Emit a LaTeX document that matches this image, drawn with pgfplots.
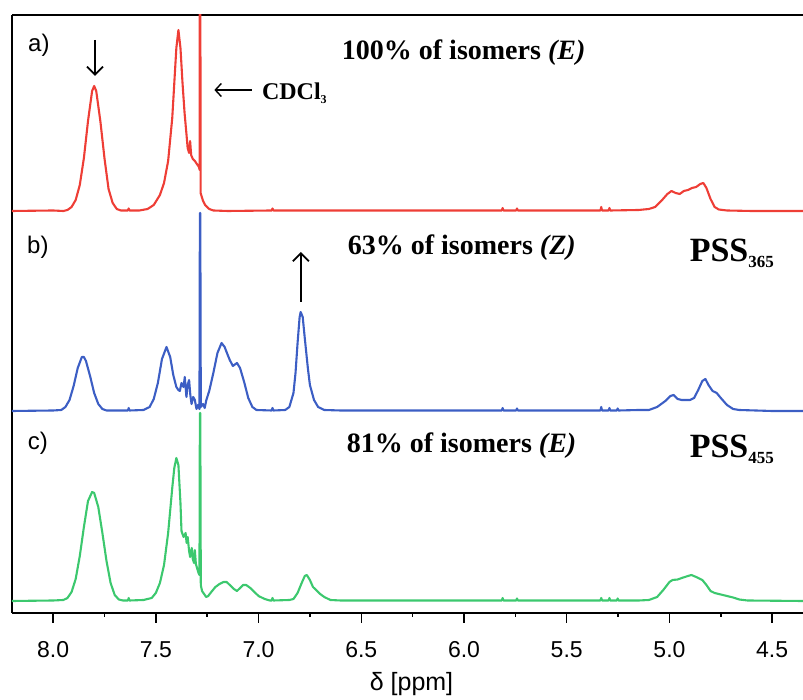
\documentclass[border=0pt]{standalone}
\usepackage{pgfplots}
\pgfplotsset{compat=1.18}
\usepackage{fontspec}
\setmainfont{Liberation Serif}
\newfontfamily\arial{Liberation Sans}
\usetikzlibrary{arrows.meta}
\definecolor{cred}{RGB}{238,62,54}
\definecolor{cblue}{RGB}{60,94,196}
\definecolor{cgreen}{RGB}{60,200,110}
\begin{document}
\begin{tikzpicture}
\useasboundingbox (-12pt,-87pt) rectangle (791pt,613pt);
\begin{axis}[name=ax, at={(0pt,0pt)}, anchor=south west, scale only axis, width=791pt, height=598pt,
  x dir=reverse, xmin=4.35, xmax=8.2, ymin=0, ymax=598,
  axis x line*=box, axis y line*=left,
  ytick=\empty, xtick={4.5,5,5.5,6,6.5,7,7.5,8}, minor x tick num=1,
  xtick pos=left, tick align=outside,
  major tick length=10pt, minor tick length=4pt,
  every tick/.append style={black, line width=1.4pt},
  axis line style={line width=1.6pt},
  /pgf/number format/assume math mode=true,
  xticklabel={\pgfmathprintnumber[fixed,fixed zerofill,precision=1]{\tick}},
  xticklabel style={font=\arial\fontsize{23}{23}\selectfont, anchor=center, yshift=-27pt},
  clip=true]
\addplot[cred, line width=2.1pt, line join=round] coordinates {
(8.20,402) (8.00,402.5) (7.95,402) (7.93,403) (7.91,406) (7.89,413) (7.87,428) (7.85,455) (7.83,492) (7.81,522) (7.80,527) (7.79,522) (7.77,492) (7.75,455) (7.73,424) (7.71,410) (7.69,404) (7.67,402.5) (7.636,402.5) (7.632,404.5) (7.628,402.5) (7.58,402.5) (7.54,404) (7.51,408) (7.48,418) (7.46,430) (7.44,452) (7.42,495) (7.41,530) (7.40,565) (7.39,583) (7.38,565) (7.37,530) (7.36,500) (7.35,477) (7.345,465) (7.338,460) (7.333,472) (7.328,458) (7.320,454) (7.310,452) (7.300,449) (7.290,446) (7.2865,443) (7.2855,700) (7.2835,700) (7.282,420) (7.27,412) (7.26,408) (7.24,404) (7.22,402.5) (7.15,402) (6.936,402.5) (6.932,404.5) (6.928,402.5) (6.60,402.5) (5.816,402.5) (5.812,405) (5.808,402.5) (5.746,402.5) (5.742,404.5) (5.738,402.5) (5.336,402.5) (5.332,406) (5.328,402.5) (5.296,402.5) (5.292,405) (5.288,402.5) (5.15,403) (5.10,404) (5.07,406) (5.04,412) (5.01,419) (4.99,422) (4.97,420) (4.95,419) (4.93,422) (4.91,423) (4.89,425) (4.87,426) (4.85,429) (4.835,430) (4.82,425) (4.80,414) (4.78,406) (4.76,403.5) (4.72,402.5) (4.60,402) (4.35,402)
};
\addplot[cblue, line width=2.1pt, line join=round] coordinates {
(8.20,202) (8.00,202.5) (7.96,203) (7.94,206) (7.92,213) (7.90,227) (7.88,245) (7.86,256) (7.85,256) (7.84,252) (7.82,237) (7.80,220) (7.78,209) (7.76,204) (7.74,202.5) (7.636,202.5) (7.632,205) (7.628,202.5) (7.56,203) (7.53,206) (7.51,214) (7.49,230) (7.47,254) (7.448,266) (7.43,256) (7.415,238) (7.40,226) (7.39,223) (7.383,222) (7.375,230) (7.365,226) (7.359,236) (7.351,216) (7.345,228) (7.338,233) (7.332,218) (7.326,209) (7.318,216) (7.310,213) (7.302,204) (7.295,208) (7.2875,204) (7.2855,400) (7.2835,400) (7.281,206) (7.27,209) (7.262,205) (7.254,213) (7.24,222) (7.22,240) (7.20,260) (7.18,270) (7.165,266) (7.15,258) (7.14,253) (7.125,247) (7.105,250) (7.09,245) (7.07,231) (7.05,215) (7.03,206) (7.01,203) (6.936,202.5) (6.932,205) (6.928,202.5) (6.87,203) (6.85,206) (6.83,220) (6.82,240) (6.81,270) (6.80,296) (6.795,301) (6.785,296) (6.775,275) (6.76,245) (6.75,228) (6.73,213) (6.71,206) (6.68,203) (6.60,202.5) (5.816,202.5) (5.812,205) (5.808,202.5) (5.746,202.5) (5.742,204.5) (5.738,202.5) (5.336,202.5) (5.332,206) (5.328,202.5) (5.296,202.5) (5.292,205) (5.288,202.5) (5.256,202.5) (5.252,204.5) (5.248,202.5) (5.15,203) (5.10,203) (5.06,206) (5.02,212) (4.995,217) (4.98,218) (4.96,214) (4.94,213) (4.90,213) (4.88,215) (4.86,223) (4.84,232) (4.825,234) (4.81,228) (4.79,222) (4.77,220) (4.75,215) (4.72,208) (4.69,204) (4.66,203) (4.50,202) (4.35,202)
};
\addplot[cgreen, line width=2.1pt, line join=round] coordinates {
(8.20,12) (8.00,12.5) (7.95,13) (7.93,15) (7.91,21) (7.89,34) (7.87,57) (7.85,86) (7.83,112) (7.81,121) (7.80,120) (7.78,106) (7.76,80) (7.74,52) (7.72,30) (7.70,18) (7.68,13.5) (7.66,12.5) (7.636,12.5) (7.632,15) (7.628,12.5) (7.56,13) (7.52,15) (7.50,20) (7.48,30) (7.46,48) (7.44,80) (7.42,125) (7.41,145) (7.40,155) (7.39,148) (7.38,110) (7.375,82) (7.365,76) (7.355,80) (7.350,70) (7.345,76) (7.338,62) (7.333,56) (7.325,65) (7.32,54) (7.314,50) (7.310,63) (7.305,49) (7.298,44) (7.292,40) (7.2875,38) (7.2855,200) (7.2835,200) (7.281,28) (7.275,22) (7.265,19) (7.255,16) (7.245,17) (7.23,21) (7.21,26) (7.19,29) (7.17,31) (7.155,31) (7.14,28) (7.12,24) (7.105,22) (7.09,25) (7.075,28) (7.06,28) (7.04,25) (7.02,21) (7.00,17) (6.97,14) (6.945,12.5) (6.936,12.5) (6.932,15) (6.928,12.5) (6.85,13) (6.83,14) (6.81,20) (6.79,30) (6.775,37) (6.765,38) (6.75,33) (6.735,26) (6.72,23) (6.70,19) (6.68,16) (6.65,13) (6.60,12.5) (5.816,12.5) (5.812,15) (5.808,12.5) (5.746,12.5) (5.742,14.5) (5.738,12.5) (5.336,12.5) (5.332,15) (5.328,12.5) (5.296,12.5) (5.292,15) (5.288,12.5) (5.256,12.5) (5.252,14.5) (5.248,12.5) (5.15,12.5) (5.10,13) (5.06,16) (5.03,23) (5.00,31) (4.985,33) (4.96,33.5) (4.94,35) (4.91,37) (4.893,38) (4.87,36) (4.84,33) (4.82,28) (4.80,22) (4.78,20) (4.75,18.5) (4.72,17) (4.69,15.5) (4.66,13.5) (4.62,12.5) (4.35,12)
};
% panel letters
\node[font=\arial\fontsize{24}{24}\selectfont] at (axis cs:8.069,568) {a)};
\node[font=\arial\fontsize{24}{24}\selectfont] at (axis cs:8.074,366) {b)};
\node[font=\arial\fontsize{24}{24}\selectfont] at (axis cs:8.074,170) {c)};
% titles
\node[anchor=base west, inner sep=0pt, font=\fontsize{28}{28}\selectfont\bfseries] at (axis cs:6.595,553) {100\% of isomers \textit{(E)}};
\node[anchor=base west, inner sep=0pt, font=\fontsize{28}{28}\selectfont\bfseries] at (axis cs:6.566,358) {63\% of isomers \textit{(Z)}};
\node[anchor=base west, inner sep=0pt, font=\fontsize{28}{28}\selectfont\bfseries] at (axis cs:6.571,160) {81\% of isomers \textit{(E)}};
\node[anchor=base west, inner sep=0pt, font=\fontsize{34}{34}\selectfont\bfseries] at (axis cs:4.902,351) {PSS\raisebox{-6pt}{\fontsize{17}{17}\selectfont 365}};
\node[anchor=base west, inner sep=0pt, font=\fontsize{34}{34}\selectfont\bfseries] at (axis cs:4.902,155) {PSS\raisebox{-6pt}{\fontsize{17}{17}\selectfont 455}};
\node[anchor=base west, inner sep=0pt, font=\fontsize{24}{24}\selectfont\bfseries] at (axis cs:6.984,513) {CDCl\raisebox{-4pt}{\fontsize{12}{12}\selectfont 3}};
% arrows
\draw[line width=1.4pt, -{Straight Barb[length=6pt,width=13pt]}] (axis cs:7.033,523) -- (axis cs:7.215,523);
\draw[line width=1.8pt, -{Straight Barb[length=8pt,width=16pt]}] (axis cs:7.796,573) -- (axis cs:7.796,537);
\draw[line width=1.8pt, -{Straight Barb[length=8pt,width=16pt]}] (axis cs:6.794,311) -- (axis cs:6.794,361);
\end{axis}
\node[inner sep=0pt, font=\arial\fontsize{25}{25}\selectfont] at (399.5pt,-71pt) {δ [ppm]};
\end{tikzpicture}
\end{document}
